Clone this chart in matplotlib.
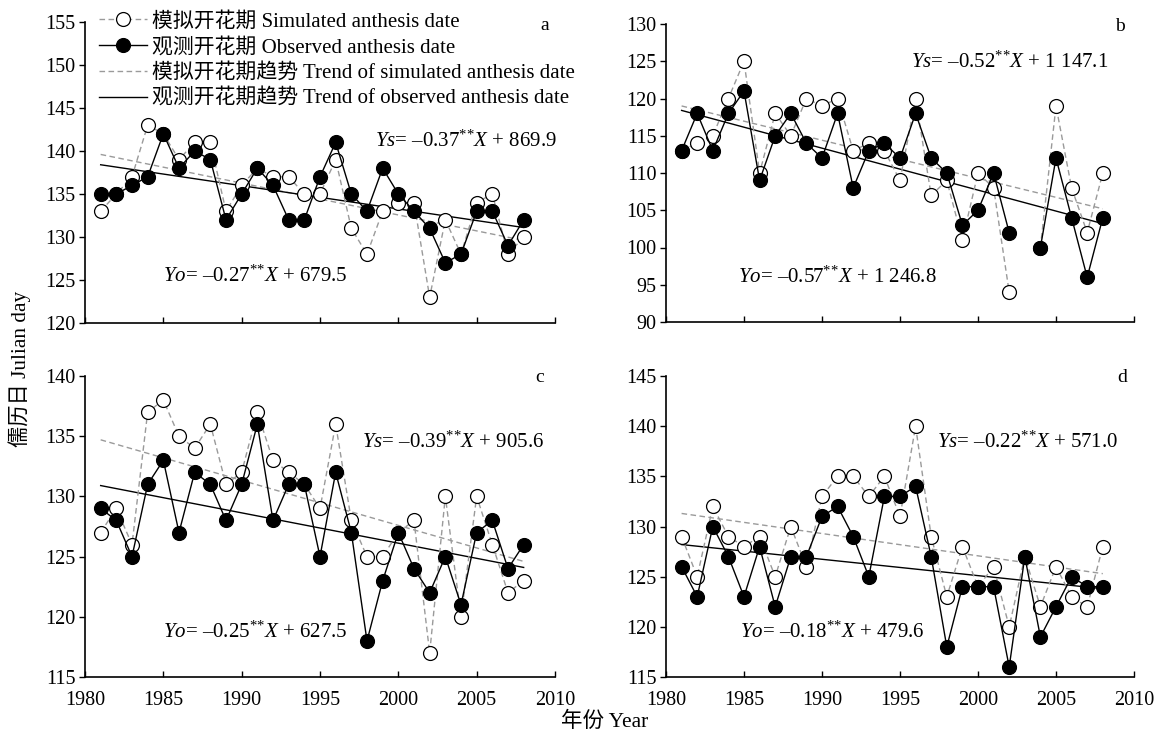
import numpy as np
import matplotlib
matplotlib.use('Agg')
import matplotlib.pyplot as plt

plt.rcParams['font.family'] = ['Liberation Serif', 'Noto Sans CJK SC']
plt.rcParams['mathtext.fontset'] = 'custom'
plt.rcParams['mathtext.rm'] = 'Liberation Serif'
plt.rcParams['mathtext.it'] = 'Liberation Serif:italic'

years = np.arange(1981, 2009)
nan = np.nan

# a
sim_a = [133, 135, 137, 143, 142, 139, 141, 141, 133, 136, 138, 137, 137, 135,
         135, 139, 131, 128, 133, 134, 134, 123, 132, 128, 134, 135, 128, 130]
obs_a = [135, 135, 136, 137, 142, 138, 140, 139, 132, 135, 138, 136, 132, 132,
         137, 141, 135, 133, 138, 135, 133, 131, 127, 128, 133, 133, 129, 132]
# b
sim_b = [113, 114, 115, 120, 125, 110, 118, 115, 120, 119, 120, 113, 114, 113,
         109, 120, 107, 109, 101, 110, 108, 94, nan, 100, 119, 108, 102, 110]
obs_b = [113, 118, 113, 118, 121, 109, 115, 118, 114, 112, 118, 108, 113, 114,
         112, 118, 112, 110, 103, 105, 110, 102, nan, 100, 112, 104, 96, 104]
# c
sim_c = [127, 129, 126, 137, 138, 135, 134, 136, 131, 132, 137, 133, 132, 131,
         129, 136, 128, 125, 125, 127, 128, 117, 130, 120, 130, 126, 122, 123]
obs_c = [129, 128, 125, 131, 133, 127, 132, 131, 128, 131, 136, 128, 131, 131,
         125, 132, 127, 118, 123, 127, 124, 122, 125, 121, 127, 128, 124, 126]
# d
sim_d = [129, 125, 132, 129, 128, 129, 125, 130, 126, 133, 135, 135, 133, 135,
         131, 140, 129, 123, 128, 124, 126, 120, 127, 122, 126, 123, 122, 128]
obs_d = [126, 123, 130, 127, 123, 128, 122, 127, 127, 131, 132, 129, 125, 133,
         133, 134, 127, 118, 124, 124, 124, 116, 127, 119, 122, 125, 124, 124]

# trend lines, values at 1981 and 2008
trend_years = [1981, 2008]
trend_sim = {'a': [139.6, 129.6], 'b': [119.0, 105.2], 'c': [134.7, 124.6], 'd': [131.3, 125.3]}
trend_obs = {'a': [138.4, 131.1], 'b': [118.4, 103.2], 'c': [130.9, 124.1], 'd': [128.2, 123.8]}

ylims = {'a': (120, 155), 'b': (90, 130), 'c': (115, 140), 'd': (115, 145)}
eq_sim = {'a': '0.37', 'b': '0.52', 'c': '0.39', 'd': '0.22'}
eq_sim_b = {'a': '869.9', 'b': '1 147.1', 'c': '905.6', 'd': '571.0'}
eq_obs = {'a': '0.27', 'b': '0.57', 'c': '0.25', 'd': '0.18'}
eq_obs_b = {'a': '679.5', 'b': '1 246.8', 'c': '627.5', 'd': '479.6'}

W, H = 1158, 738
fig = plt.figure(figsize=(W / 100, H / 100), dpi=100)

# axes boxes in pixels: left, top, right, bottom
boxes = {'a': (85, 22, 555, 323), 'b': (666, 24, 1134, 322),
         'c': (85, 376, 555, 677), 'd': (666, 376, 1134, 677)}
eq_pos = {'a': ((0.617, 0.605), (0.166, 0.155)),
          'b': ((0.524, 0.872), (0.154, 0.152)),
          'c': ((0.589, 0.780), (0.166, 0.150)),
          'd': ((0.579, 0.780), (0.158, 0.150))}
lab_pos = {'a': (0.979, 0.99), 'b': (0.970, 0.99), 'c': (0.968, 0.995), 'd': (0.974, 0.995)}


def equation(name, slope, icpt):
    return ('$' + name + '$= \u2013' + slope + r'$^{{*}{*}}$$X$ + ' + icpt)


data = {'a': (sim_a, obs_a), 'b': (sim_b, obs_b), 'c': (sim_c, obs_c), 'd': (sim_d, obs_d)}
gray = '#9a9a9a'
for k in 'abcd':
    l, t, r, b = boxes[k]
    ax = fig.add_axes([l / W, 1 - b / H, (r - l) / W, (b - t) / H])
    sim, obs = data[k]
    h3, = ax.plot(trend_years, trend_sim[k], color=gray, ls=(0, (4, 2.5)), lw=1.0)
    h4, = ax.plot(trend_years, trend_obs[k], color='black', ls='-', lw=1.0)
    h1, = ax.plot(years, sim, color=gray, ls=(0, (4, 2.5)), lw=1.0, marker='o',
                  ms=10, mfc='white', mec='black', mew=0.9)
    h2, = ax.plot(years, obs, color='black', ls='-', lw=1.0, marker='o',
                  ms=10, mfc='black', mec='black', mew=0.9)
    ax.set_xlim(1980, 2010)
    ax.set_ylim(*ylims[k])
    ax.set_xticks(range(1980, 2011, 5))
    ax.set_yticks(np.arange(ylims[k][0], ylims[k][1] + 1, 5))
    ax.spines['top'].set_visible(False)
    ax.spines['right'].set_visible(False)
    ax.spines['left'].set_linewidth(1.2)
    ax.spines['bottom'].set_linewidth(1.2)
    ax.tick_params(axis='x', direction='in', length=4, width=1, labelsize=14.5, pad=10)
    ax.tick_params(axis='y', direction='out', length=4, width=1, labelsize=14.5, pad=3)
    if k in 'ab':
        ax.set_xticklabels([])
    (sx, sy), (ox, oy) = eq_pos[k]
    ax.text(sx, sy, equation('Ys', eq_sim[k], eq_sim_b[k]),
            transform=ax.transAxes, fontsize=15, va='center', ha='left')
    ax.text(ox, oy, equation('Yo', eq_obs[k], eq_obs_b[k]),
            transform=ax.transAxes, fontsize=15, va='center', ha='left')
    ax.text(lab_pos[k][0], lab_pos[k][1], k, transform=ax.transAxes,
            fontsize=14, va='center', ha='center')
    if k == 'a':
        handles = [h1, h2, h3, h4]

labels = ['模拟开花期 Simulated anthesis date', '观测开花期 Observed anthesis date',
          '模拟开花期趋势 Trend of simulated anthesis date', '观测开花期趋势 Trend of observed anthesis date']
fig.legend(handles, labels, loc='upper left', bbox_to_anchor=(99 / W, 1 - 12 / H),
           frameon=False, fontsize=15, handlelength=2.3, handletextpad=0.25,
           labelspacing=0.28, borderpad=0, borderaxespad=0)

fig.text(20 / W, 0.5, '儒历日 Julian day', rotation=90, va='center', ha='center', fontsize=15.3)
fig.text(605 / W, 1 - 722 / H, '年份 Year', va='center', ha='center', fontsize=15.5)

fig.savefig('out.png', dpi=100)
